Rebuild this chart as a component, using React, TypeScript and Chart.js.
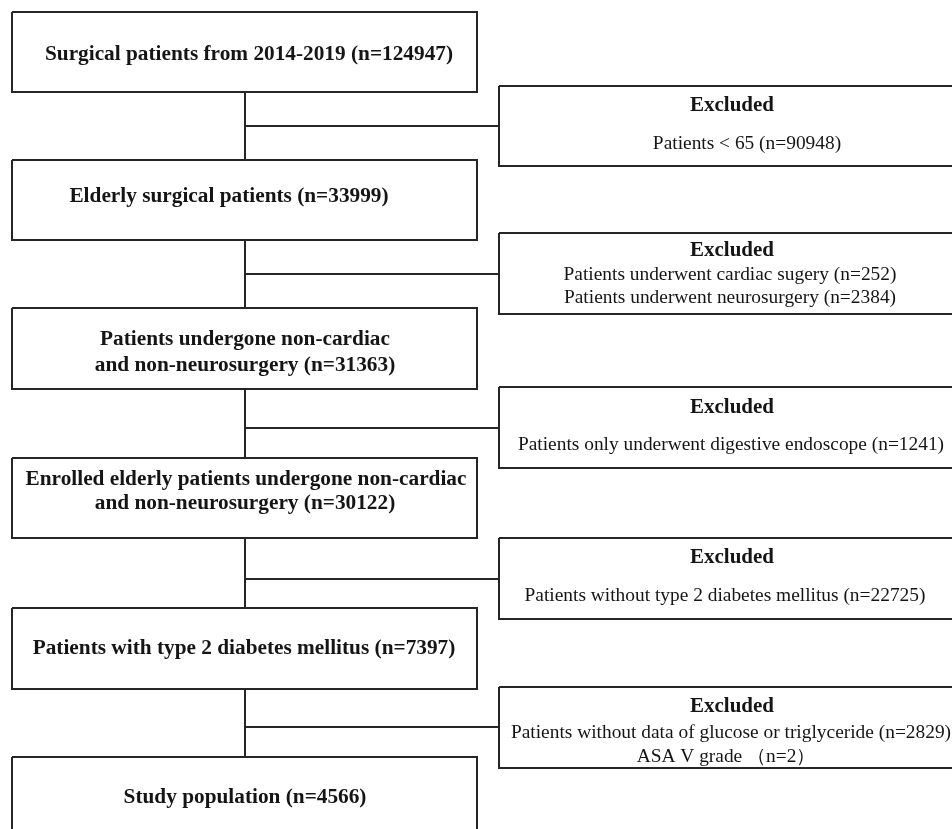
import React, { useEffect, useRef } from "react";
import { Chart, registerables } from "chart.js";

Chart.register(...registerables);

// ---- content ----
const stepTexts: string[][] = [
  ["Surgical patients from 2014-2019 (n=124947)"],
  ["Elderly surgical patients (n=33999)"],
  ["Patients undergone non-cardiac", "and non-neurosurgery (n=31363)"],
  ["Enrolled elderly patients undergone non-cardiac", "and non-neurosurgery (n=30122)"],
  ["Patients with type 2 diabetes mellitus (n=7397)"],
  ["Study population (n=4566)"],
];
const excludedTitle = "Excluded";
const excludedTexts: string[][] = [
  ["Patients < 65 (n=90948)"],
  ["Patients underwent cardiac sugery (n=252)", "Patients underwent neurosurgery (n=2384)"],
  ["Patients only underwent digestive endoscope (n=1241)"],
  ["Patients without type 2 diabetes mellitus (n=22725)"],
  ["Patients without data of glucose or triglyceride (n=2829)", "ASA V grade \uFF08n=2\uFF09"],
];

// ---- layout (data units of the hidden scales) ----
const leftX = [12, 477];
const stemX = 245;
const rightX = [499, 963];
const stepTop = [12, 160, 308, 458, 608, 757];
const stepBottom = [92, 240, 389, 538, 689, 870];
const stepLineY: number[][] = [[54], [196], [339, 365], [479, 503], [648], [797]];
const stepLineX: number[][] = [[249], [229], [245, 245], [246, 245], [244], [245]];
const exclTop = [86, 233, 387, 538, 687];
const exclBottom = [166, 314, 468, 619, 768];
const exclTitleY = [106, 251, 408, 558, 707];
const exclTitleX = [732, 732, 732, 732, 732];
const exclLineY: number[][] = [[144], [275, 298], [445], [596], [733, 757]];
const exclLineX: number[][] = [[747], [730, 730], [731], [725], [731, 726]];
const branchY = [126, 274, 428, 579, 727];

const LINE = "#262626";
const TEXT = "#151515";
const FONT = "'Liberation Serif', 'Times New Roman', serif";

function rectPoints(x0: number, x1: number, y0: number, y1: number) {
  return [
    { x: x0, y: y0 },
    { x: x1, y: y0 },
    { x: x1, y: y1 },
    { x: x0, y: y1 },
    { x: x0, y: y0 },
  ];
}

export default function App() {
  const ref = useRef<HTMLCanvasElement | null>(null);

  useEffect(() => {
    document.body.style.margin = "0";
    document.body.style.background = "#ffffff";
    const canvas = ref.current;
    if (!canvas) return;

    const datasets: any[] = [];
    const seg = (pts: { x: number; y: number }[]) =>
      datasets.push({
        data: pts,
        showLine: true,
        borderColor: LINE,
        borderWidth: 2,
        pointRadius: 0,
        fill: false,
        tension: 0,
        clip: false,
      });

    stepTop.forEach((t, i) => seg(rectPoints(leftX[0], leftX[1], t, stepBottom[i])));
    exclTop.forEach((t, i) => seg(rectPoints(rightX[0], rightX[1], t, exclBottom[i])));
    for (let i = 0; i < stepTop.length - 1; i++) {
      seg([
        { x: stemX, y: stepBottom[i] },
        { x: stemX, y: stepTop[i + 1] },
      ]);
      seg([
        { x: stemX, y: branchY[i] },
        { x: rightX[0], y: branchY[i] },
      ]);
    }

    const textPlugin = {
      id: "flowText",
      afterDatasetsDraw(chart: any) {
        const { ctx, scales } = chart;
        const xs = scales.x;
        const ys = scales.y;
        ctx.save();
        ctx.fillStyle = TEXT;
        ctx.textAlign = "center";
        ctx.textBaseline = "middle";
        ctx.font = `bold 21.3px ${FONT}`;
        stepTexts.forEach((lines, i) =>
          lines.forEach((s, j) =>
            ctx.fillText(s, xs.getPixelForValue(stepLineX[i][j]), ys.getPixelForValue(stepLineY[i][j]))
          )
        );
        excludedTexts.forEach((lines, i) => {
          ctx.font = `bold 21px ${FONT}`;
          ctx.fillText(excludedTitle, xs.getPixelForValue(exclTitleX[i]), ys.getPixelForValue(exclTitleY[i]));
          ctx.font = `19.4px ${FONT}`;
          lines.forEach((s, j) =>
            ctx.fillText(s, xs.getPixelForValue(exclLineX[i][j]), ys.getPixelForValue(exclLineY[i][j]))
          );
        });
        ctx.restore();
      },
    };

    const chart = new Chart(canvas, {
      type: "scatter",
      data: { datasets },
      options: {
        animation: false,
        responsive: true,
        maintainAspectRatio: false,
        layout: { padding: 0 },
        plugins: { legend: { display: false }, tooltip: { enabled: false } },
        scales: {
          x: { type: "linear", min: 0, max: 952, display: false },
          y: { type: "linear", min: 0, max: 829, reverse: true, display: false },
        },
      },
      plugins: [textPlugin],
    });
    return () => chart.destroy();
  }, []);

  return (
    <div style={{ width: 952, height: 829, position: "relative", background: "#fff" }}>
      <canvas ref={ref} />
    </div>
  );
}
